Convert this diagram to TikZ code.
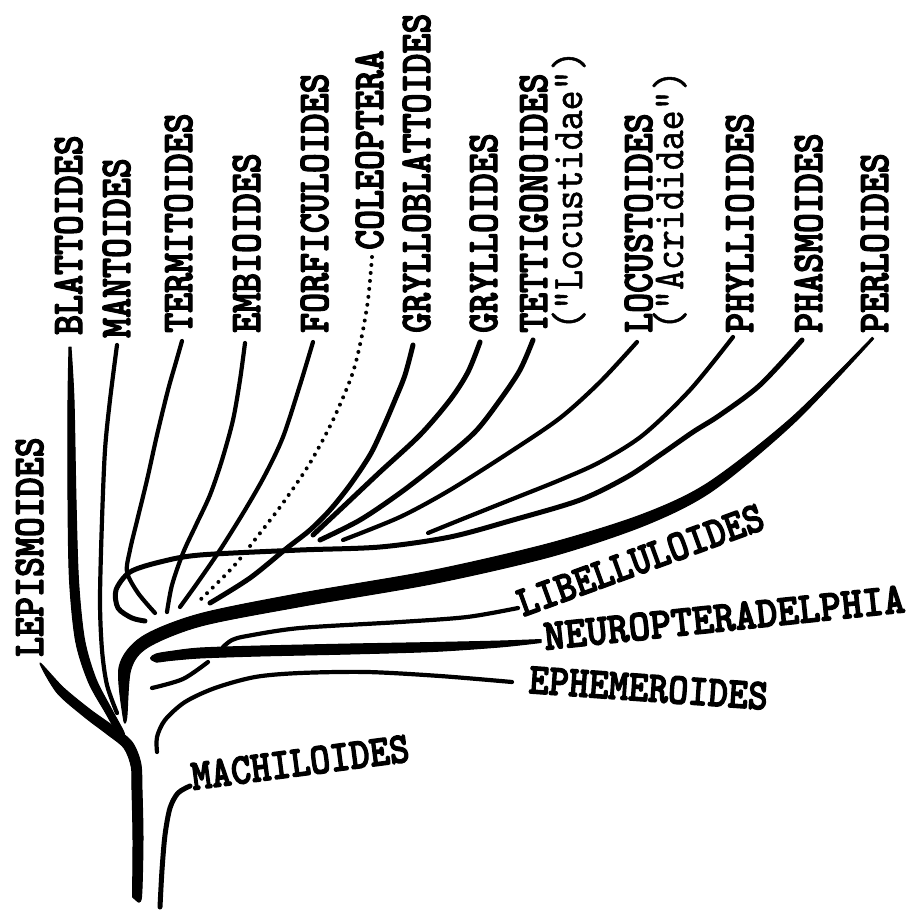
\documentclass[tikz,border=0pt]{standalone}
\usepackage{fontspec}
\usepackage{graphicx}
\newfontfamily\twbold{lmmonolt10-bold.otf}[FakeBold=3]
\newfontfamily\twreg{lmmono10-regular.otf}[FakeBold=1.2]
\newcommand\labtxt[1]{\scalebox{1}[1.15]{#1}}
\tikzset{
  lab/.style={inner sep=0pt, font=\fontsize{38}{38}\selectfont\twbold, anchor=base west},
  vlab/.style={lab, rotate=90},
  sublab/.style={inner sep=0pt, font=\fontsize{38}{38}\selectfont\twreg, anchor=base west, rotate=90},
  br/.style={line width=4.2pt, line cap=round, line join=round},
  brthick/.style={line width=5pt, line cap=round, line join=round},
  dotbr/.style={line width=4pt, line cap=round, dash pattern=on 0pt off 8pt},
  taper/.style={fill=black, draw=black, line width=1pt, line join=round}
}
\begin{document}
\begin{tikzpicture}[x=1pt,y=-1pt]
\useasboundingbox (0,0) rectangle (908,910);
\fill[white] (0,0) rectangle (908,910);

% ---------- labels ----------
\node[vlab] (blatt)  at (82,335)  {\labtxt{BLATTOIDES}};
\node[vlab] (mant)   at (130,338) {\labtxt{MANTOIDES}};
\node[vlab] (termit) at (192,333) {\labtxt{TERMITOIDES}};
\node[vlab] (embi)   at (260,333) {\labtxt{EMBIOIDES}};
\node[vlab] (forf)   at (328,333) {\labtxt{FORFICULOIDES}};
\node[vlab] (coleo)  at (383,250) {\labtxt{COLEOPTERA}};
\node[vlab] (grylbl) at (430,333) {\labtxt{GRYLLOBLATTOIDES}};
\node[vlab] (gryl)   at (497,333) {\labtxt{GRYLLOIDES}};
\node[vlab] (tett)   at (547,333) {\labtxt{TETTIGONOIDES}};
\node[sublab] (tettsub) at (582,330) {\labtxt{("Locustidae")}};
\node[vlab] (locu)   at (652,333) {\labtxt{LOCUSTOIDES}};
\node[sublab] (locusub) at (683,330) {\labtxt{("Acrididae")}};
\node[vlab] (phyl)   at (753,333) {\labtxt{PHYLLIOIDES}};
\node[vlab] (phas)   at (822,333) {\labtxt{PHASMOIDES}};
\node[vlab] (perl)   at (888,333) {\labtxt{PERLOIDES}};
\node[vlab] (lepis)  at (43,657)  {\labtxt{LEPISMOIDES}};
\node[lab, rotate=20]  (libel) at (523,617) {\labtxt{LIBELLULOIDES}};
\node[lab, rotate=6]   (neuro) at (545,650) {\scalebox{1.07}[1.15]{NEUROPTERADELPHIA}};
\node[lab, rotate=-4]  (ephem) at (528,693) {\labtxt{EPHEMEROIDES}};
\node[lab, rotate=7.5] (mach)  at (193,790) {\labtxt{MACHILOIDES}};

% ---------- tapered thick branches ----------
% trunk + Lepismoides
\fill[taper] plot[smooth, tension=0.5] coordinates {
 (137,901) (141.5,897) (143,840) (142,790) (140.7,763) (132,742) (113,726)
 (90,709.5) (63.2,687.5) (40,663) (56.8,692.5) (84,716.5) (107,734) (124,748)
 (131.3,767) (132,790) (133,840) (132.5,897)} -- cycle;
% Blattoides
\fill[taper] plot[smooth, tension=0.5] coordinates {
 (71,347) (74,400) (76,500) (78.5,580) (84.4,639) (95.7,678.3) (111,708.2) (124.4,733.5)
 (119.6,736.5) (105,711.8) (88.3,681.7) (75.6,641) (69.5,580) (68,500) (68,400) (69,347)} -- cycle;
% Perloides (long thick branch)
\fill[taper] plot[smooth, tension=0.5] coordinates {
 (873.7,338.7) (794.9,422.1) (712.5,490.8) (645.1,525.2) (551.8,556.3) (434.3,583.4)
 (301.2,606.4) (201.6,625.8) (148.3,647) (130.8,669.5) (126.7,718)
 (123.3,718) (119.2,666.5) (141.7,637) (198.4,614.2) (298.8,593.6) (431.7,570.6)
 (548.2,543.7) (640.9,514.9) (707.5,483.2) (791.1,418) (872.3,337.3)} -- cycle;
% Neuropteradelphia
\fill[taper] plot[smooth, tension=0.5] coordinates {
 (541,639.5) (500,641) (433,642.5) (350,644) (260,646) (200,648) (170,651.5) (156,654)
 (150.5,658) (156,662) (170,660.5) (200,658) (260,656) (350,654) (433,651.5) (500,647) (541,642.5)} -- cycle;

% ---------- thin branches ----------
\coordinate (eMant) at (117,345);
\draw[br] plot[smooth] coordinates {(eMant) (110,400) (105,450) (102,520) (100,600) (102,650) (107,685) (117,713)};
\coordinate (eTermit) at (182,341);
\draw[br] plot[smooth] coordinates {(eTermit) (176,362) (168,390) (157,435) (147,480) (136,525) (130,550) (127,572) (138,593) (155,613)};
\coordinate (eEmbi) at (245,343);
\draw[br] plot[smooth] coordinates {(eEmbi) (240,380) (233,420) (222,460) (210,495) (196,525) (183,553) (172,585) (167,612)};
\coordinate (eForf) at (313,342);
\draw[br] plot[smooth] coordinates {(eForf) (300,385) (283,437) (265,475) (245,510) (220,550) (198,582) (180,607)};
\coordinate (eColeo) at (372,257);
\draw[dotbr] plot[smooth] coordinates {(eColeo) (368,300) (361,340) (352,375) (333,420) (310,463) (283,503) (257,537) (233,567) (197,603)};
\coordinate (eGrylbl) at (413,345);
\draw[brthick] plot[smooth] coordinates {(eGrylbl) (405,375) (395,400) (383,428) (370,455) (350,485) (330,510) (310,530) (287,548) (250,578) (210,603)};
\coordinate (eGryl) at (480,342);
\draw[brthick] plot[smooth] coordinates {(eGryl) (468,372) (450,400) (420,435) (380,472) (345,505) (313,535)};
\coordinate (eTett) at (533,340);
\draw[brthick] plot[smooth] coordinates {(eTett) (520,370) (500,400) (475,432) (440,462) (400,493) (360,520) (320,540)};
\coordinate (eLocu) at (637,342);
\draw[br] plot[smooth] coordinates {(eLocu) (600,382) (560,418) (510,452) (450,490) (400,517) (343,540)};
\coordinate (ePhyl) at (733,337);
\draw[br] plot[smooth] coordinates {(ePhyl) (690,390) (643,435) (600,462) (560,480) (510,500) (460,520) (428,533)};
\coordinate (ePhas) at (802,340);
\draw[brthick] plot[smooth] coordinates {(ePhas) (760,385) (720,415) (693,432) (660,455) (627,477) (580,500) (513,520) (450,537) (380,547) (300,550) (200,555) (160,562) (130,572) (116,590) (118,608) (132,618) (145,621)};
\coordinate (eLibel) at (518,608);
\draw[br] plot[smooth] coordinates {(eLibel) (467,617) (400,622) (300,628) (247,636) (232,640) (223,647)};
\draw[br] plot[smooth] coordinates {(152,688) (183,679) (208,662)};
\coordinate (eEphem) at (512,682);
\draw[br] plot[smooth] coordinates {(eEphem) (440,676) (367,672) (300,673) (255,677) (215,688) (185,702) (165,720) (157,737) (157,752)};
\coordinate (eMach) at (190,786);
\draw[brthick] plot[smooth] coordinates {(eMach) (178,793) (170,808) (165,835) (162,870) (160,907)};
\end{tikzpicture}
\end{document}
